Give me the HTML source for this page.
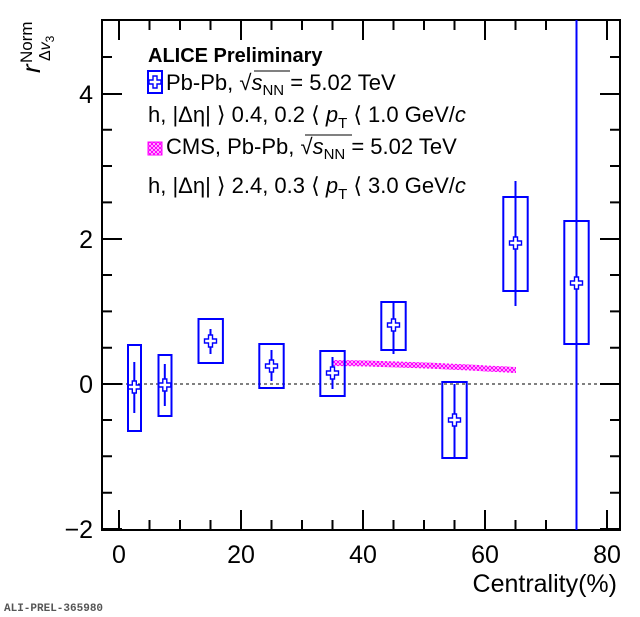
<!DOCTYPE html>
<html><head><meta charset="utf-8"><style>
html,body{margin:0;padding:0;background:#fff;}
svg{display:block;font-family:"Liberation Sans",sans-serif;}
</style></head><body>
<svg width="640" height="617" viewBox="0 0 640 617" xmlns="http://www.w3.org/2000/svg">
<defs>
<pattern id="hatch" width="4" height="4" patternUnits="userSpaceOnUse">
<rect width="4" height="4" fill="#fff"/>
<path d="M0,0L4,4M4,0L0,4" stroke="#f0f" stroke-width="1.2"/>
</pattern>
<g id="mk"><path d="M-2,-6H2V-2H6V2H2V6H-2V2H-6V-2H-2Z" fill="#fff" stroke="#00f" stroke-width="1.4"/></g>
</defs>
<rect x="102" y="20" width="518" height="510" fill="none" stroke="#000" stroke-width="2"/>
<g stroke="#000" stroke-width="2">
<path d="M119,530v-20M149.5,530v-10M180,530v-10M210.5,530v-10M241,530v-20M271.5,530v-10M302,530v-10M332.5,530v-10M363,530v-20M393.5,530v-10M424,530v-10M454.5,530v-10M485,530v-20M515.5,530v-10M546,530v-10M576.5,530v-10M607,530v-20"/>
<path d="M119,20v20M149.5,20v10M180,20v10M210.5,20v10M241,20v20M271.5,20v10M302,20v10M332.5,20v10M363,20v20M393.5,20v10M424,20v10M454.5,20v10M485,20v20M515.5,20v10M546,20v10M576.5,20v10M607,20v20"/>
<path d="M102,529h20M102,492.7h10M102,456.3h10M102,420h10M102,384h20M102,347.7h10M102,311.4h10M102,275h10M102,239h20M102,202.4h10M102,166h10M102,129.7h10M102,94h20M102,57h10"/>
<path d="M620,529h-20M620,492.7h-10M620,456.3h-10M620,420h-10M620,384h-20M620,347.7h-10M620,311.4h-10M620,275h-10M620,239h-20M620,202.4h-10M620,166h-10M620,129.7h-10M620,94h-20M620,57h-10"/>
</g>
<line x1="102" y1="384" x2="620" y2="384" stroke="#000" stroke-width="1" stroke-dasharray="3,3"/>
<path d="M332.5,360 C410,361 460,364 516,367 L516,373 C460,370 410,367 332.5,366 Z" fill="url(#hatch)"/>
<g fill="none" stroke="#00f" stroke-width="2">
<rect x="128" y="345" width="13" height="86"/>
<rect x="158.5" y="355" width="13" height="61"/>
<rect x="198.5" y="319" width="24.4" height="44"/>
<rect x="259.3" y="344" width="24.4" height="44"/>
<rect x="320.3" y="351" width="24.4" height="45"/>
<rect x="381.3" y="302" width="24.4" height="48"/>
<rect x="442.3" y="382" width="24.4" height="76"/>
<rect x="503.3" y="197" width="24.4" height="94"/>
<rect x="564.3" y="221" width="24.4" height="123"/>
</g>
<g stroke="#00f" stroke-width="2">
<path d="M134.3,362V413M164.8,364V406M210.5,329V354M271.5,350V381M332.5,357V389M393.5,302V354M454.5,384V458M515.5,181V306M576.5,20V530"/>
</g>
<use href="#mk" x="134.3" y="387"/>
<use href="#mk" x="164.8" y="385"/>
<use href="#mk" x="210.5" y="341"/>
<use href="#mk" x="271.5" y="366"/>
<use href="#mk" x="332.5" y="373"/>
<use href="#mk" x="393.5" y="325"/>
<use href="#mk" x="454.5" y="420"/>
<use href="#mk" x="515.5" y="243"/>
<use href="#mk" x="576.5" y="283"/>
<g font-size="25" text-anchor="end">
<text x="93" y="103">4</text>
<text x="93" y="248">2</text>
<text x="93" y="393">0</text>
<text x="93" y="538">−2</text>
</g>
<g font-size="25" text-anchor="middle">
<text x="119" y="563">0</text>
<text x="241" y="563">20</text>
<text x="363" y="563">40</text>
<text x="485" y="563">60</text>
<text x="607" y="563">80</text>
</g>
<text x="617" y="592" font-size="25" text-anchor="end">Centrality(%)</text>
<g transform="translate(40,73) rotate(-90)">
<text x="0" y="0" font-size="26" font-style="italic">r</text>
<text x="10" y="-8" font-size="17">Norm</text>
<text x="12" y="10" font-size="16">Δ<tspan font-style="italic">v</tspan><tspan font-size="12" dy="4">3</tspan></text>
</g>
<text x="148" y="62" font-size="20" font-weight="bold">ALICE Preliminary</text>
<rect x="148" y="71" width="14" height="22" fill="none" stroke="#00f" stroke-width="2"/>
<use href="#mk" x="155" y="82"/>
<text x="166" y="90" font-size="22">Pb-Pb, <tspan>√</tspan><tspan font-style="italic">s</tspan><tspan font-size="15" dy="5">NN</tspan><tspan dy="-5"> = 5.02 TeV</tspan></text>
<line x1="254" y1="71" x2="290" y2="71" stroke="#000" stroke-width="1"/>
<text x="148" y="122" font-size="22">h, |Δη| ⟩ 0.4, 0.2 ⟨ <tspan font-style="italic">p</tspan><tspan font-size="15" dy="6">T</tspan><tspan dy="-6"> ⟨ 1.0 GeV/</tspan><tspan font-style="italic">c</tspan></text>
<rect x="148" y="142" width="14" height="13" fill="url(#hatch)" stroke="#f0f"/>
<text x="166" y="154" font-size="22">CMS, Pb-Pb, √<tspan font-style="italic">s</tspan><tspan font-size="15" dy="5">NN</tspan><tspan dy="-5"> = 5.02 TeV</tspan></text>
<line x1="305" y1="135" x2="352" y2="135" stroke="#000" stroke-width="1"/>
<text x="148" y="193" font-size="22">h, |Δη| ⟩ 2.4, 0.3 ⟨ <tspan font-style="italic">p</tspan><tspan font-size="15" dy="6">T</tspan><tspan dy="-6"> ⟨ 3.0 GeV/</tspan><tspan font-style="italic">c</tspan></text>
<text x="4" y="611" font-size="11" font-weight="bold" font-family="Liberation Mono,monospace" fill="#555">ALI-PREL-365980</text>
</svg>
</body></html>
